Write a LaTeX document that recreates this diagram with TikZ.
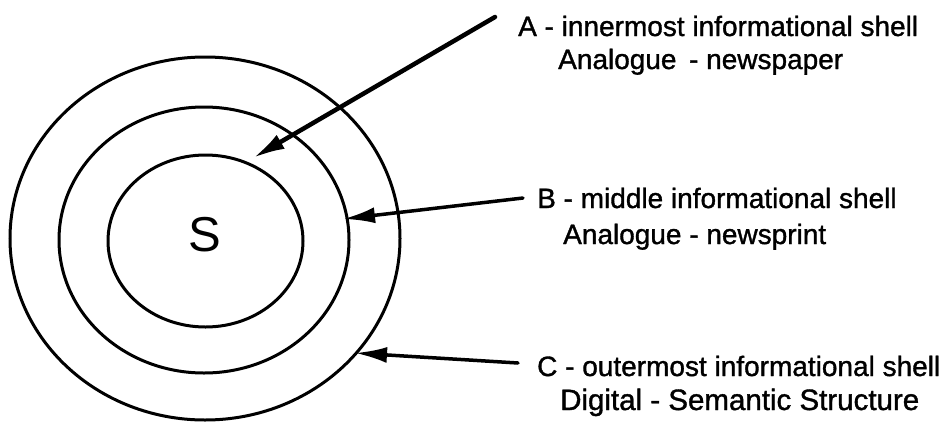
\documentclass[tikz,border=0pt]{standalone}
\usepackage{fontspec}
\setmainfont{Liberation Sans}
\newfontfamily\scanfont{Liberation Sans}[FakeBold=1.2]
\usetikzlibrary{arrows.meta,shapes.geometric}
\tikzset{
  shell/.style={draw=black, line width=3pt, ellipse, inner sep=0pt},
  pointer/.style={draw=black, line width=4pt, line cap=round, -{Latex[length=32pt,width=16pt]}},
  label/.style={anchor=base west, inner sep=0pt, font=\scanfont\fontsize{28}{33}\selectfont},
  big/.style={font=\fontsize{49}{55}\selectfont, inner sep=0pt}
}
\begin{document}
\begin{tikzpicture}[x=1pt,y=-1pt]
\useasboundingbox (0,0) rectangle (945,421);
% shells
\node[shell, minimum width=390pt, minimum height=363pt] (outer) at (205,238.5) {};
\node[shell, minimum width=290pt, minimum height=266pt] (middle) at (204,240) {};
\node[shell, minimum width=195pt, minimum height=172pt] (inner) at (205.5,241) {};
\node[big] (s) at (205,235) {S};
% labels
\node[label] (la1) at (518,36) {A - innermost informational shell};
\node[label] (la2) at (558,69) {Analogue\hspace{0.45em}- newspaper};
\node[label] (lb1) at (537,208) {B - middle informational shell};
\node[label] (lb2) at (563,244) {Analogue - newsprint};
\node[label] (lc1) at (537,376) {C - outermost informational shell};
\node[label, font=\scanfont\fontsize{29.5}{34}\selectfont] (lc2) at (560,410) {Digital - Semantic Structure};
% arrow ends
\coordinate (as) at (495,17);
\coordinate (at) at (253,158);
\coordinate (bs) at (523,198);
\coordinate (bt) at (343,219);
\coordinate (cs) at (518,363);
\coordinate (ct) at (355,353);
\draw[pointer, line width=4.5pt] (as) -- (at);
\draw[pointer, line width=3.5pt] (bs) -- (bt);
\draw[pointer, line width=3.5pt] (cs) -- (ct);
\end{tikzpicture}
\end{document}
